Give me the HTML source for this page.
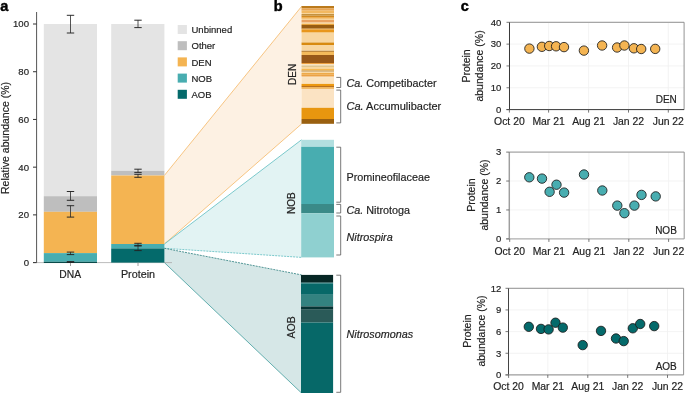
<!DOCTYPE html>
<html><head><meta charset="utf-8"><style>
html,body{margin:0;padding:0;background:#fff;}
svg{display:block;font-family:"Liberation Sans", sans-serif;will-change:transform;}
text{stroke:#222;stroke-width:0.18px;paint-order:stroke;}
</style></head><body>
<svg width="685" height="393" viewBox="0 0 685 393">
<rect width="685" height="393" fill="#fff"/>
<polygon points="164.4,175.4 301.5,6.5 301.5,124 164.4,244" fill="#fdf1e3"/>
<line x1="164.4" y1="175.4" x2="301.5" y2="6.5" stroke="#f5b866" stroke-width="0.8" />
<line x1="164.4" y1="244" x2="301.5" y2="124" stroke="#f5b866" stroke-width="0.8" />
<polygon points="164.4,244 301.5,139.8 301.5,257.4 164.4,248.3" fill="#e2f3f3"/>
<line x1="164.4" y1="244" x2="301.5" y2="139.8" stroke="#5dbdc0" stroke-width="0.8" />
<line x1="164.4" y1="248.3" x2="301.5" y2="257.4" stroke="#5dbdc0" stroke-width="0.8" stroke-dasharray="2 1"/>
<polygon points="164.4,248.3 301.5,274.9 301.5,393 164.4,262.6" fill="#d6e7e7"/>
<line x1="164.4" y1="248.3" x2="301.5" y2="274.9" stroke="#2b7d7e" stroke-width="0.8" stroke-dasharray="2 1"/>
<line x1="164.4" y1="262.6" x2="301.5" y2="393" stroke="#3f9c9c" stroke-width="0.8" />
<text x="0.3" y="11.2" font-size="14.5" text-anchor="start" font-weight="bold" font-style="normal" fill="#000" style="stroke:#000;stroke-width:0.45px">a</text>
<line x1="33" y1="262.6" x2="172" y2="262.6" stroke="#aaa" stroke-width="0.8" />
<rect x="43.80" y="24.00" width="53.20" height="172.20" fill="#e4e4e4"/>
<rect x="43.80" y="196.20" width="53.20" height="15.60" fill="#bebebe"/>
<rect x="43.80" y="211.80" width="53.20" height="41.30" fill="#f4b452"/>
<rect x="43.80" y="253.10" width="53.20" height="8.70" fill="#48adb0"/>
<rect x="43.80" y="261.80" width="53.20" height="1.20" fill="#0a4a4a"/>
<rect x="111.20" y="24.00" width="53.20" height="146.80" fill="#e4e4e4"/>
<rect x="111.20" y="170.80" width="53.20" height="4.70" fill="#bebebe"/>
<rect x="111.20" y="175.50" width="53.20" height="68.50" fill="#f4b452"/>
<rect x="111.20" y="244.00" width="53.20" height="4.40" fill="#48adb0"/>
<rect x="111.20" y="248.40" width="53.20" height="14.20" fill="#046a6b"/>
<line x1="36.6" y1="12" x2="36.6" y2="262.6" stroke="#555" stroke-width="1" />
<line x1="33" y1="262.6" x2="36.6" y2="262.6" stroke="#333" stroke-width="1" />
<text x="29.0" y="266.0" font-size="9.6" text-anchor="end" font-weight="normal" font-style="normal" fill="#222" >0</text>
<line x1="33" y1="214.88000000000002" x2="36.6" y2="214.88000000000002" stroke="#333" stroke-width="1" />
<text x="29.0" y="218.28000000000003" font-size="9.6" text-anchor="end" font-weight="normal" font-style="normal" fill="#222" >20</text>
<line x1="33" y1="167.16000000000003" x2="36.6" y2="167.16000000000003" stroke="#333" stroke-width="1" />
<text x="29.0" y="170.56000000000003" font-size="9.6" text-anchor="end" font-weight="normal" font-style="normal" fill="#222" >40</text>
<line x1="33" y1="119.44000000000003" x2="36.6" y2="119.44000000000003" stroke="#333" stroke-width="1" />
<text x="29.0" y="122.84000000000003" font-size="9.6" text-anchor="end" font-weight="normal" font-style="normal" fill="#222" >60</text>
<line x1="33" y1="71.72000000000003" x2="36.6" y2="71.72000000000003" stroke="#333" stroke-width="1" />
<text x="29.0" y="75.12000000000003" font-size="9.6" text-anchor="end" font-weight="normal" font-style="normal" fill="#222" >80</text>
<line x1="33" y1="24.0" x2="36.6" y2="24.0" stroke="#333" stroke-width="1" />
<text x="29.0" y="27.4" font-size="9.6" text-anchor="end" font-weight="normal" font-style="normal" fill="#222" >100</text>
<line x1="70.5" y1="262.6" x2="70.5" y2="266" stroke="#888" stroke-width="0.8" />
<line x1="138" y1="262.6" x2="138" y2="266" stroke="#888" stroke-width="0.8" />
<text x="70.2" y="278.3" font-size="10.3" text-anchor="middle" font-weight="normal" font-style="normal" fill="#222" >DNA</text>
<text x="138" y="278.3" font-size="10.8" text-anchor="middle" font-weight="normal" font-style="normal" fill="#222" >Protein</text>
<text x="8.9" y="138" font-size="10.5" text-anchor="middle" font-weight="normal" font-style="normal" fill="#222" transform="rotate(-90 8.9 138)" >Relative abundance (%)</text>
<line x1="70.5" y1="15.3" x2="70.5" y2="33" stroke="#2a2a2a" stroke-width="0.8" />
<line x1="66.8" y1="15.3" x2="74.2" y2="15.3" stroke="#222" stroke-width="0.95" />
<line x1="66.8" y1="33" x2="74.2" y2="33" stroke="#222" stroke-width="0.95" />
<line x1="70.5" y1="191.5" x2="70.5" y2="200.3" stroke="#2a2a2a" stroke-width="0.8" />
<line x1="66.8" y1="191.5" x2="74.2" y2="191.5" stroke="#222" stroke-width="0.95" />
<line x1="66.8" y1="200.3" x2="74.2" y2="200.3" stroke="#222" stroke-width="0.95" />
<line x1="70.5" y1="205.7" x2="70.5" y2="217.1" stroke="#2a2a2a" stroke-width="0.8" />
<line x1="66.8" y1="205.7" x2="74.2" y2="205.7" stroke="#222" stroke-width="0.95" />
<line x1="66.8" y1="217.1" x2="74.2" y2="217.1" stroke="#222" stroke-width="0.95" />
<line x1="70.5" y1="252.1" x2="70.5" y2="254.6" stroke="#2a2a2a" stroke-width="0.8" />
<line x1="66.8" y1="252.1" x2="74.2" y2="252.1" stroke="#222" stroke-width="0.95" />
<line x1="66.8" y1="254.6" x2="74.2" y2="254.6" stroke="#222" stroke-width="0.95" />
<line x1="70.5" y1="261.6" x2="70.5" y2="262.4" stroke="#2a2a2a" stroke-width="0.8" />
<line x1="66.8" y1="261.6" x2="74.2" y2="261.6" stroke="#222" stroke-width="0.95" />
<line x1="66.8" y1="262.4" x2="74.2" y2="262.4" stroke="#222" stroke-width="0.95" />
<line x1="138" y1="20.2" x2="138" y2="27.6" stroke="#2a2a2a" stroke-width="0.8" />
<line x1="134.3" y1="20.2" x2="141.7" y2="20.2" stroke="#222" stroke-width="0.95" />
<line x1="134.3" y1="27.6" x2="141.7" y2="27.6" stroke="#222" stroke-width="0.95" />
<line x1="138" y1="169.2" x2="138" y2="172.4" stroke="#2a2a2a" stroke-width="0.8" />
<line x1="134.3" y1="169.2" x2="141.7" y2="169.2" stroke="#222" stroke-width="0.95" />
<line x1="134.3" y1="172.4" x2="141.7" y2="172.4" stroke="#222" stroke-width="0.95" />
<line x1="138" y1="174.3" x2="138" y2="177.3" stroke="#2a2a2a" stroke-width="0.8" />
<line x1="134.3" y1="174.3" x2="141.7" y2="174.3" stroke="#222" stroke-width="0.95" />
<line x1="134.3" y1="177.3" x2="141.7" y2="177.3" stroke="#222" stroke-width="0.95" />
<line x1="138" y1="243.3" x2="138" y2="245.4" stroke="#2a2a2a" stroke-width="0.8" />
<line x1="134.3" y1="243.3" x2="141.7" y2="243.3" stroke="#222" stroke-width="0.95" />
<line x1="134.3" y1="245.4" x2="141.7" y2="245.4" stroke="#222" stroke-width="0.95" />
<line x1="138" y1="246" x2="138" y2="250.6" stroke="#2a2a2a" stroke-width="0.8" />
<line x1="134.3" y1="246" x2="141.7" y2="246" stroke="#222" stroke-width="0.95" />
<line x1="134.3" y1="250.6" x2="141.7" y2="250.6" stroke="#222" stroke-width="0.95" />
<rect x="177.70" y="25.00" width="9.20" height="9.00" fill="#e4e4e4"/>
<text x="191.5" y="33.1" font-size="9.5" text-anchor="start" font-weight="normal" font-style="normal" fill="#222" >Unbinned</text>
<rect x="177.70" y="41.20" width="9.20" height="9.00" fill="#bebebe"/>
<text x="191.5" y="49.300000000000004" font-size="9.5" text-anchor="start" font-weight="normal" font-style="normal" fill="#222" >Other</text>
<rect x="177.70" y="57.40" width="9.20" height="9.00" fill="#f4b452"/>
<text x="191.5" y="65.5" font-size="9.5" text-anchor="start" font-weight="normal" font-style="normal" fill="#222" >DEN</text>
<rect x="177.70" y="73.60" width="9.20" height="9.00" fill="#48adb0"/>
<text x="191.5" y="81.69999999999999" font-size="9.5" text-anchor="start" font-weight="normal" font-style="normal" fill="#222" >NOB</text>
<rect x="177.70" y="89.80" width="9.20" height="9.00" fill="#046a6b"/>
<text x="191.5" y="97.89999999999999" font-size="9.5" text-anchor="start" font-weight="normal" font-style="normal" fill="#222" >AOB</text>
<text x="273.7" y="11.2" font-size="14.5" text-anchor="start" font-weight="bold" font-style="normal" fill="#000" style="stroke:#000;stroke-width:0.45px">b</text>
<rect x="301.50" y="6.00" width="32.50" height="2.00" fill="#bb7a1c"/>
<rect x="301.50" y="8.00" width="32.50" height="0.80" fill="#e2a050"/>
<rect x="301.50" y="8.80" width="32.50" height="1.90" fill="#e9a552"/>
<rect x="301.50" y="10.70" width="32.50" height="2.30" fill="#f2b860"/>
<rect x="301.50" y="13.00" width="32.50" height="1.00" fill="#f8d49a"/>
<rect x="301.50" y="14.00" width="32.50" height="1.70" fill="#c4923f"/>
<rect x="301.50" y="15.70" width="32.50" height="1.50" fill="#d38a22"/>
<rect x="301.50" y="17.20" width="32.50" height="1.50" fill="#eba032"/>
<rect x="301.50" y="18.70" width="32.50" height="1.20" fill="#f8d49a"/>
<rect x="301.50" y="19.90" width="32.50" height="2.70" fill="#e9a262"/>
<rect x="301.50" y="22.60" width="32.50" height="1.50" fill="#f8d49a"/>
<rect x="301.50" y="24.10" width="32.50" height="0.90" fill="#e59a2a"/>
<rect x="301.50" y="25.00" width="32.50" height="3.70" fill="#985c12"/>
<rect x="301.50" y="28.70" width="32.50" height="1.10" fill="#eaa13a"/>
<rect x="301.50" y="29.80" width="32.50" height="2.30" fill="#e8961c"/>
<rect x="301.50" y="32.10" width="32.50" height="0.80" fill="#f0b860"/>
<rect x="301.50" y="32.90" width="32.50" height="9.60" fill="#f8d6a0"/>
<rect x="301.50" y="42.50" width="32.50" height="2.50" fill="#d88a10"/>
<rect x="301.50" y="45.00" width="32.50" height="5.70" fill="#f8d6a0"/>
<rect x="301.50" y="50.70" width="32.50" height="1.30" fill="#c08a40"/>
<rect x="301.50" y="52.00" width="32.50" height="3.00" fill="#f4ba5a"/>
<rect x="301.50" y="55.00" width="32.50" height="8.00" fill="#985818"/>
<rect x="301.50" y="63.00" width="32.50" height="1.00" fill="#eca040"/>
<rect x="301.50" y="64.00" width="32.50" height="1.60" fill="#fbe4c0"/>
<rect x="301.50" y="65.60" width="32.50" height="1.20" fill="#cdb273"/>
<rect x="301.50" y="66.80" width="32.50" height="1.90" fill="#f8d8a0"/>
<rect x="301.50" y="68.70" width="32.50" height="1.90" fill="#f5b850"/>
<rect x="301.50" y="70.60" width="32.50" height="1.10" fill="#b88840"/>
<rect x="301.50" y="71.70" width="32.50" height="1.20" fill="#fadcaa"/>
<rect x="301.50" y="72.90" width="32.50" height="1.70" fill="#eeaa48"/>
<rect x="301.50" y="74.60" width="32.50" height="1.30" fill="#e8942a"/>
<rect x="301.50" y="75.90" width="32.50" height="1.20" fill="#f5c890"/>
<rect x="301.50" y="77.10" width="32.50" height="6.80" fill="#fbe3c0"/>
<rect x="301.50" y="83.90" width="32.50" height="2.10" fill="#ec9810"/>
<rect x="301.50" y="86.00" width="32.50" height="1.10" fill="#b87020"/>
<rect x="301.50" y="87.10" width="32.50" height="1.80" fill="#f0b050"/>
<rect x="301.50" y="88.90" width="32.50" height="18.90" fill="#fbe3c3"/>
<rect x="301.50" y="107.80" width="32.50" height="11.20" fill="#e8960f"/>
<rect x="301.50" y="119.00" width="32.50" height="4.80" fill="#9a6010"/>
<rect x="301.20" y="139.80" width="32.80" height="7.00" fill="#b2dfe0"/>
<rect x="301.20" y="146.80" width="32.80" height="57.20" fill="#48adb0"/>
<rect x="301.20" y="204.00" width="32.80" height="9.30" fill="#3a8a88"/>
<rect x="301.20" y="213.30" width="32.80" height="44.10" fill="#8fd0d0"/>
<rect x="301.00" y="274.90" width="32.10" height="7.80" fill="#072725"/>
<rect x="301.00" y="282.70" width="32.10" height="1.10" fill="#2a7f7f"/>
<rect x="301.00" y="283.80" width="32.10" height="11.00" fill="#076868"/>
<rect x="301.00" y="294.80" width="32.10" height="11.60" fill="#338280"/>
<rect x="301.00" y="306.40" width="32.10" height="3.30" fill="#053434"/>
<rect x="301.00" y="309.70" width="32.10" height="12.80" fill="#2a5a58"/>
<rect x="301.00" y="322.50" width="32.10" height="70.50" fill="#066868"/>
<text x="295.6" y="74.4" font-size="10" text-anchor="middle" font-weight="normal" font-style="normal" fill="#222" transform="rotate(-90 295.6 74.4)" >DEN</text>
<text x="295.5" y="203.1" font-size="10" text-anchor="middle" font-weight="normal" font-style="normal" fill="#222" transform="rotate(-90 295.5 203.1)" >NOB</text>
<text x="295.5" y="327.3" font-size="10.5" text-anchor="middle" font-weight="normal" font-style="normal" fill="#222" transform="rotate(-90 295.5 327.3)" >AOB</text>
<polyline points="336.3,77.4 340.7,77.4 340.7,87.5 336.3,87.5" fill="none" stroke="#555" stroke-width="0.8"/>
<polyline points="336.3,90.1 340.7,90.1 340.7,122.9 336.3,122.9" fill="none" stroke="#555" stroke-width="0.8"/>
<polyline points="336.3,147.2 340.7,147.2 340.7,202.2 336.3,202.2" fill="none" stroke="#555" stroke-width="0.8"/>
<polyline points="336.3,204.4 340.7,204.4 340.7,213 336.3,213" fill="none" stroke="#555" stroke-width="0.8"/>
<polyline points="336.3,216 340.7,216 340.7,255 336.3,255" fill="none" stroke="#555" stroke-width="0.8"/>
<polyline points="336.3,275.2 340.7,275.2 340.7,392.3 336.3,392.3" fill="none" stroke="#555" stroke-width="0.8"/>
<text x="346.5" y="87" font-size="10.8" fill="#222"><tspan font-style="italic">Ca.</tspan> Competibacter</text>
<text x="346.5" y="109.6" font-size="11" fill="#222"><tspan font-style="italic">Ca.</tspan> Accumulibacter</text>
<text x="346.5" y="181.2" font-size="10.8" text-anchor="start" font-weight="normal" font-style="normal" fill="#222" >Promineofilaceae</text>
<text x="346.5" y="213.6" font-size="10.8" fill="#222"><tspan font-style="italic">Ca.</tspan> Nitrotoga</text>
<text x="346.5" y="240.7" font-size="10.8" text-anchor="start" font-weight="normal" font-style="italic" fill="#222" >Nitrospira</text>
<text x="346.5" y="337.5" font-size="10.8" text-anchor="start" font-weight="normal" font-style="italic" fill="#222" >Nitrosomonas</text>
<text x="460.7" y="11.2" font-size="14.5" text-anchor="start" font-weight="bold" font-style="normal" fill="#000" style="stroke:#000;stroke-width:0.45px">c</text>
<line x1="509.5" y1="109.6" x2="684.1" y2="109.6" stroke="#f0f0f0" stroke-width="0.8" />
<line x1="509.5" y1="87.77499999999999" x2="684.1" y2="87.77499999999999" stroke="#f0f0f0" stroke-width="0.8" />
<line x1="509.5" y1="65.94999999999999" x2="684.1" y2="65.94999999999999" stroke="#f0f0f0" stroke-width="0.8" />
<line x1="509.5" y1="44.125" x2="684.1" y2="44.125" stroke="#f0f0f0" stroke-width="0.8" />
<line x1="509.5" y1="22.299999999999997" x2="684.1" y2="22.299999999999997" stroke="#f0f0f0" stroke-width="0.8" />
<line x1="509.4" y1="22.3" x2="509.4" y2="109.6" stroke="#f0f0f0" stroke-width="0.8" />
<line x1="548.6" y1="22.3" x2="548.6" y2="109.6" stroke="#f0f0f0" stroke-width="0.8" />
<line x1="588.6" y1="22.3" x2="588.6" y2="109.6" stroke="#f0f0f0" stroke-width="0.8" />
<line x1="628.5" y1="22.3" x2="628.5" y2="109.6" stroke="#f0f0f0" stroke-width="0.8" />
<line x1="668.3" y1="22.3" x2="668.3" y2="109.6" stroke="#f0f0f0" stroke-width="0.8" />
<line x1="509.5" y1="22.3" x2="684.1" y2="22.3" stroke="#888" stroke-width="0.9" />
<line x1="684.1" y1="22.3" x2="684.1" y2="109.6" stroke="#888" stroke-width="0.9" />
<line x1="509.5" y1="22.3" x2="509.5" y2="109.6" stroke="#3a3a3a" stroke-width="1" />
<line x1="506.5" y1="109.6" x2="684.1" y2="109.6" stroke="#3a3a3a" stroke-width="1" />
<line x1="506.5" y1="109.6" x2="509.5" y2="109.6" stroke="#555" stroke-width="0.8" />
<text x="501.3" y="112.89999999999999" font-size="9.5" text-anchor="end" font-weight="normal" font-style="normal" fill="#222" >0</text>
<line x1="506.5" y1="87.77499999999999" x2="509.5" y2="87.77499999999999" stroke="#555" stroke-width="0.8" />
<text x="501.3" y="91.07499999999999" font-size="9.5" text-anchor="end" font-weight="normal" font-style="normal" fill="#222" >10</text>
<line x1="506.5" y1="65.94999999999999" x2="509.5" y2="65.94999999999999" stroke="#555" stroke-width="0.8" />
<text x="501.3" y="69.24999999999999" font-size="9.5" text-anchor="end" font-weight="normal" font-style="normal" fill="#222" >20</text>
<line x1="506.5" y1="44.125" x2="509.5" y2="44.125" stroke="#555" stroke-width="0.8" />
<text x="501.3" y="47.425" font-size="9.5" text-anchor="end" font-weight="normal" font-style="normal" fill="#222" >30</text>
<line x1="506.5" y1="22.299999999999997" x2="509.5" y2="22.299999999999997" stroke="#555" stroke-width="0.8" />
<text x="501.3" y="25.599999999999998" font-size="9.5" text-anchor="end" font-weight="normal" font-style="normal" fill="#222" >40</text>
<line x1="509.4" y1="109.6" x2="509.4" y2="112.6" stroke="#555" stroke-width="0.8" />
<text x="509.4" y="125.19999999999999" font-size="10.4" text-anchor="middle" font-weight="normal" font-style="normal" fill="#222" >Oct 20</text>
<line x1="548.6" y1="109.6" x2="548.6" y2="112.6" stroke="#555" stroke-width="0.8" />
<text x="548.6" y="125.19999999999999" font-size="10.4" text-anchor="middle" font-weight="normal" font-style="normal" fill="#222" >Mar 21</text>
<line x1="588.6" y1="109.6" x2="588.6" y2="112.6" stroke="#555" stroke-width="0.8" />
<text x="588.6" y="125.19999999999999" font-size="10.4" text-anchor="middle" font-weight="normal" font-style="normal" fill="#222" >Aug 21</text>
<line x1="628.5" y1="109.6" x2="628.5" y2="112.6" stroke="#555" stroke-width="0.8" />
<text x="628.5" y="125.19999999999999" font-size="10.4" text-anchor="middle" font-weight="normal" font-style="normal" fill="#222" >Jan 22</text>
<line x1="668.3" y1="109.6" x2="668.3" y2="112.6" stroke="#555" stroke-width="0.8" />
<text x="668.3" y="125.19999999999999" font-size="10.4" text-anchor="middle" font-weight="normal" font-style="normal" fill="#222" >Jun 22</text>
<text x="470.0" y="65.95" font-size="10.5" text-anchor="middle" font-weight="normal" font-style="normal" fill="#222" transform="rotate(-90 470.0 65.95)" >Protein</text>
<text x="483.1" y="65.95" font-size="10.5" text-anchor="middle" font-weight="normal" font-style="normal" fill="#222" transform="rotate(-90 483.1 65.95)" >abundance (%)</text>
<text x="676.8" y="103.3" font-size="10" text-anchor="end" font-weight="normal" font-style="normal" fill="#222" >DEN</text>
<circle cx="529.4" cy="48.6" r="4.7" fill="#f4b452" stroke="#1a1a1a" stroke-width="0.85"/>
<circle cx="541.9" cy="46.8" r="4.7" fill="#f4b452" stroke="#1a1a1a" stroke-width="0.85"/>
<circle cx="549.2" cy="46" r="4.7" fill="#f4b452" stroke="#1a1a1a" stroke-width="0.85"/>
<circle cx="556.1" cy="46.3" r="4.7" fill="#f4b452" stroke="#1a1a1a" stroke-width="0.85"/>
<circle cx="564" cy="47.1" r="4.7" fill="#f4b452" stroke="#1a1a1a" stroke-width="0.85"/>
<circle cx="583.9" cy="50.6" r="4.7" fill="#f4b452" stroke="#1a1a1a" stroke-width="0.85"/>
<circle cx="602.1" cy="45.5" r="4.7" fill="#f4b452" stroke="#1a1a1a" stroke-width="0.85"/>
<circle cx="617.1" cy="47.5" r="4.7" fill="#f4b452" stroke="#1a1a1a" stroke-width="0.85"/>
<circle cx="624.4" cy="45.5" r="4.7" fill="#f4b452" stroke="#1a1a1a" stroke-width="0.85"/>
<circle cx="633.9" cy="48.3" r="4.7" fill="#f4b452" stroke="#1a1a1a" stroke-width="0.85"/>
<circle cx="641.2" cy="49" r="4.7" fill="#f4b452" stroke="#1a1a1a" stroke-width="0.85"/>
<circle cx="655.2" cy="48.9" r="4.7" fill="#f4b452" stroke="#1a1a1a" stroke-width="0.85"/>
<line x1="509.2" y1="238.9" x2="684.2" y2="238.9" stroke="#f0f0f0" stroke-width="0.8" />
<line x1="509.2" y1="209.96666666666667" x2="684.2" y2="209.96666666666667" stroke="#f0f0f0" stroke-width="0.8" />
<line x1="509.2" y1="181.03333333333333" x2="684.2" y2="181.03333333333333" stroke="#f0f0f0" stroke-width="0.8" />
<line x1="509.2" y1="152.1" x2="684.2" y2="152.1" stroke="#f0f0f0" stroke-width="0.8" />
<line x1="509.7" y1="152.1" x2="509.7" y2="238.9" stroke="#f0f0f0" stroke-width="0.8" />
<line x1="548.9" y1="152.1" x2="548.9" y2="238.9" stroke="#f0f0f0" stroke-width="0.8" />
<line x1="588.9" y1="152.1" x2="588.9" y2="238.9" stroke="#f0f0f0" stroke-width="0.8" />
<line x1="628.8" y1="152.1" x2="628.8" y2="238.9" stroke="#f0f0f0" stroke-width="0.8" />
<line x1="668.5999999999999" y1="152.1" x2="668.5999999999999" y2="238.9" stroke="#f0f0f0" stroke-width="0.8" />
<line x1="509.2" y1="152.1" x2="684.2" y2="152.1" stroke="#888" stroke-width="0.9" />
<line x1="684.2" y1="152.1" x2="684.2" y2="238.9" stroke="#888" stroke-width="0.9" />
<line x1="509.2" y1="152.1" x2="509.2" y2="238.9" stroke="#777" stroke-width="1" />
<line x1="506.2" y1="238.9" x2="684.2" y2="238.9" stroke="#a0a0a0" stroke-width="1" />
<line x1="506.2" y1="238.9" x2="509.2" y2="238.9" stroke="#555" stroke-width="0.8" />
<text x="501.3" y="242.20000000000002" font-size="9.5" text-anchor="end" font-weight="normal" font-style="normal" fill="#222" >0</text>
<line x1="506.2" y1="209.96666666666667" x2="509.2" y2="209.96666666666667" stroke="#555" stroke-width="0.8" />
<text x="501.3" y="213.26666666666668" font-size="9.5" text-anchor="end" font-weight="normal" font-style="normal" fill="#222" >1</text>
<line x1="506.2" y1="181.03333333333333" x2="509.2" y2="181.03333333333333" stroke="#555" stroke-width="0.8" />
<text x="501.3" y="184.33333333333334" font-size="9.5" text-anchor="end" font-weight="normal" font-style="normal" fill="#222" >2</text>
<line x1="506.2" y1="152.1" x2="509.2" y2="152.1" stroke="#555" stroke-width="0.8" />
<text x="501.3" y="155.4" font-size="9.5" text-anchor="end" font-weight="normal" font-style="normal" fill="#222" >3</text>
<line x1="509.7" y1="238.9" x2="509.7" y2="241.9" stroke="#555" stroke-width="0.8" />
<text x="509.7" y="254.70000000000002" font-size="10.4" text-anchor="middle" font-weight="normal" font-style="normal" fill="#222" >Oct 20</text>
<line x1="548.9" y1="238.9" x2="548.9" y2="241.9" stroke="#555" stroke-width="0.8" />
<text x="548.9" y="254.70000000000002" font-size="10.4" text-anchor="middle" font-weight="normal" font-style="normal" fill="#222" >Mar 21</text>
<line x1="588.9" y1="238.9" x2="588.9" y2="241.9" stroke="#555" stroke-width="0.8" />
<text x="588.9" y="254.70000000000002" font-size="10.4" text-anchor="middle" font-weight="normal" font-style="normal" fill="#222" >Aug 21</text>
<line x1="628.8" y1="238.9" x2="628.8" y2="241.9" stroke="#555" stroke-width="0.8" />
<text x="628.8" y="254.70000000000002" font-size="10.4" text-anchor="middle" font-weight="normal" font-style="normal" fill="#222" >Jan 22</text>
<line x1="668.5999999999999" y1="238.9" x2="668.5999999999999" y2="241.9" stroke="#555" stroke-width="0.8" />
<text x="668.5999999999999" y="254.70000000000002" font-size="10.4" text-anchor="middle" font-weight="normal" font-style="normal" fill="#222" >Jun 22</text>
<text x="474.7" y="195.0" font-size="10.5" text-anchor="middle" font-weight="normal" font-style="normal" fill="#222" transform="rotate(-90 474.7 195.0)" >Protein</text>
<text x="487.9" y="195.0" font-size="10.5" text-anchor="middle" font-weight="normal" font-style="normal" fill="#222" transform="rotate(-90 487.9 195.0)" >abundance (%)</text>
<text x="676.8" y="233.6" font-size="10" text-anchor="end" font-weight="normal" font-style="normal" fill="#222" >NOB</text>
<circle cx="529.3" cy="177.3" r="4.7" fill="#48adb0" stroke="#1a1a1a" stroke-width="0.85"/>
<circle cx="542" cy="178.6" r="4.7" fill="#48adb0" stroke="#1a1a1a" stroke-width="0.85"/>
<circle cx="549.6" cy="191.8" r="4.7" fill="#48adb0" stroke="#1a1a1a" stroke-width="0.85"/>
<circle cx="556.5" cy="184.7" r="4.7" fill="#48adb0" stroke="#1a1a1a" stroke-width="0.85"/>
<circle cx="564.1" cy="192.6" r="4.7" fill="#48adb0" stroke="#1a1a1a" stroke-width="0.85"/>
<circle cx="584" cy="174.5" r="4.7" fill="#48adb0" stroke="#1a1a1a" stroke-width="0.85"/>
<circle cx="602.3" cy="190.5" r="4.7" fill="#48adb0" stroke="#1a1a1a" stroke-width="0.85"/>
<circle cx="617.3" cy="205.6" r="4.7" fill="#48adb0" stroke="#1a1a1a" stroke-width="0.85"/>
<circle cx="624.4" cy="213.2" r="4.7" fill="#48adb0" stroke="#1a1a1a" stroke-width="0.85"/>
<circle cx="634.4" cy="205.6" r="4.7" fill="#48adb0" stroke="#1a1a1a" stroke-width="0.85"/>
<circle cx="641.5" cy="194.9" r="4.7" fill="#48adb0" stroke="#1a1a1a" stroke-width="0.85"/>
<circle cx="655.7" cy="196.4" r="4.7" fill="#48adb0" stroke="#1a1a1a" stroke-width="0.85"/>
<line x1="508.5" y1="374.9" x2="683.6" y2="374.9" stroke="#f0f0f0" stroke-width="0.8" />
<line x1="508.5" y1="353.25" x2="683.6" y2="353.25" stroke="#f0f0f0" stroke-width="0.8" />
<line x1="508.5" y1="331.6" x2="683.6" y2="331.6" stroke="#f0f0f0" stroke-width="0.8" />
<line x1="508.5" y1="309.95" x2="683.6" y2="309.95" stroke="#f0f0f0" stroke-width="0.8" />
<line x1="508.5" y1="288.3" x2="683.6" y2="288.3" stroke="#f0f0f0" stroke-width="0.8" />
<line x1="508.59999999999997" y1="288.3" x2="508.59999999999997" y2="374.9" stroke="#f0f0f0" stroke-width="0.8" />
<line x1="547.8000000000001" y1="288.3" x2="547.8000000000001" y2="374.9" stroke="#f0f0f0" stroke-width="0.8" />
<line x1="587.8000000000001" y1="288.3" x2="587.8000000000001" y2="374.9" stroke="#f0f0f0" stroke-width="0.8" />
<line x1="627.7" y1="288.3" x2="627.7" y2="374.9" stroke="#f0f0f0" stroke-width="0.8" />
<line x1="667.5" y1="288.3" x2="667.5" y2="374.9" stroke="#f0f0f0" stroke-width="0.8" />
<line x1="508.5" y1="288.3" x2="683.6" y2="288.3" stroke="#888" stroke-width="0.9" />
<line x1="683.6" y1="288.3" x2="683.6" y2="374.9" stroke="#888" stroke-width="0.9" />
<line x1="508.5" y1="288.3" x2="508.5" y2="374.9" stroke="#444" stroke-width="1" />
<line x1="505.5" y1="374.9" x2="683.6" y2="374.9" stroke="#8a8a8a" stroke-width="1" />
<line x1="505.5" y1="374.9" x2="508.5" y2="374.9" stroke="#555" stroke-width="0.8" />
<text x="501.3" y="378.2" font-size="9.5" text-anchor="end" font-weight="normal" font-style="normal" fill="#222" >0</text>
<line x1="505.5" y1="353.25" x2="508.5" y2="353.25" stroke="#555" stroke-width="0.8" />
<text x="501.3" y="356.55" font-size="9.5" text-anchor="end" font-weight="normal" font-style="normal" fill="#222" >3</text>
<line x1="505.5" y1="331.6" x2="508.5" y2="331.6" stroke="#555" stroke-width="0.8" />
<text x="501.3" y="334.90000000000003" font-size="9.5" text-anchor="end" font-weight="normal" font-style="normal" fill="#222" >6</text>
<line x1="505.5" y1="309.95" x2="508.5" y2="309.95" stroke="#555" stroke-width="0.8" />
<text x="501.3" y="313.25" font-size="9.5" text-anchor="end" font-weight="normal" font-style="normal" fill="#222" >9</text>
<line x1="505.5" y1="288.3" x2="508.5" y2="288.3" stroke="#555" stroke-width="0.8" />
<text x="501.3" y="291.6" font-size="9.5" text-anchor="end" font-weight="normal" font-style="normal" fill="#222" >12</text>
<line x1="508.59999999999997" y1="374.9" x2="508.59999999999997" y2="377.9" stroke="#555" stroke-width="0.8" />
<text x="508.59999999999997" y="390.0" font-size="10.4" text-anchor="middle" font-weight="normal" font-style="normal" fill="#222" >Oct 20</text>
<line x1="547.8000000000001" y1="374.9" x2="547.8000000000001" y2="377.9" stroke="#555" stroke-width="0.8" />
<text x="547.8000000000001" y="390.0" font-size="10.4" text-anchor="middle" font-weight="normal" font-style="normal" fill="#222" >Mar 21</text>
<line x1="587.8000000000001" y1="374.9" x2="587.8000000000001" y2="377.9" stroke="#555" stroke-width="0.8" />
<text x="587.8000000000001" y="390.0" font-size="10.4" text-anchor="middle" font-weight="normal" font-style="normal" fill="#222" >Aug 21</text>
<line x1="627.7" y1="374.9" x2="627.7" y2="377.9" stroke="#555" stroke-width="0.8" />
<text x="627.7" y="390.0" font-size="10.4" text-anchor="middle" font-weight="normal" font-style="normal" fill="#222" >Jan 22</text>
<line x1="667.5" y1="374.9" x2="667.5" y2="377.9" stroke="#555" stroke-width="0.8" />
<text x="667.5" y="390.0" font-size="10.4" text-anchor="middle" font-weight="normal" font-style="normal" fill="#222" >Jun 22</text>
<text x="470.6" y="331.0" font-size="10.5" text-anchor="middle" font-weight="normal" font-style="normal" fill="#222" transform="rotate(-90 470.6 331.0)" >Protein</text>
<text x="484.6" y="331.0" font-size="10.5" text-anchor="middle" font-weight="normal" font-style="normal" fill="#222" transform="rotate(-90 484.6 331.0)" >abundance (%)</text>
<text x="676.8" y="369.79999999999995" font-size="10" text-anchor="end" font-weight="normal" font-style="normal" fill="#222" >AOB</text>
<circle cx="528.8" cy="326.8" r="4.7" fill="#046a6b" stroke="#1a1a1a" stroke-width="0.85"/>
<circle cx="541" cy="328.9" r="4.7" fill="#046a6b" stroke="#1a1a1a" stroke-width="0.85"/>
<circle cx="548.6" cy="329.4" r="4.7" fill="#046a6b" stroke="#1a1a1a" stroke-width="0.85"/>
<circle cx="555.5" cy="322.7" r="4.7" fill="#046a6b" stroke="#1a1a1a" stroke-width="0.85"/>
<circle cx="562.8" cy="327.6" r="4.7" fill="#046a6b" stroke="#1a1a1a" stroke-width="0.85"/>
<circle cx="582.7" cy="345.1" r="4.7" fill="#046a6b" stroke="#1a1a1a" stroke-width="0.85"/>
<circle cx="601" cy="330.9" r="4.7" fill="#046a6b" stroke="#1a1a1a" stroke-width="0.85"/>
<circle cx="616" cy="338.5" r="4.7" fill="#046a6b" stroke="#1a1a1a" stroke-width="0.85"/>
<circle cx="623.7" cy="341.1" r="4.7" fill="#046a6b" stroke="#1a1a1a" stroke-width="0.85"/>
<circle cx="632.8" cy="328.3" r="4.7" fill="#046a6b" stroke="#1a1a1a" stroke-width="0.85"/>
<circle cx="640.2" cy="324" r="4.7" fill="#046a6b" stroke="#1a1a1a" stroke-width="0.85"/>
<circle cx="654.2" cy="326.1" r="4.7" fill="#046a6b" stroke="#1a1a1a" stroke-width="0.85"/>
</svg>
</body></html>
